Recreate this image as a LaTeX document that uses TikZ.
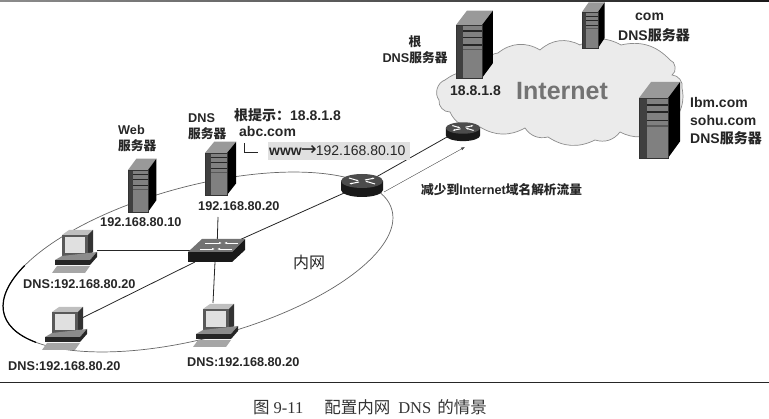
\documentclass[tikz,border=0pt]{standalone}
\usepackage{fontspec}
\setmainfont{Liberation Sans}
\newfontfamily\cjk{Noto Sans CJK SC}
\newfontfamily\capserif{Liberation Serif}
\newfontfamily\arrowfont{DejaVu Sans}
\usetikzlibrary{arrows.meta,calc,positioning}

\tikzset{
	lbl/.style={font=\bfseries\fontsize{12.7}{16}\selectfont, inner sep=0pt, text=black!85, align=left},
	biglbl/.style={lbl, font=\bfseries\fontsize{14}{18}\selectfont},
	lnk/.style={line width=.8pt, black!85},
	bump/.style={bend left=#1},
	serverbox/.pic={
		\fill[black!40] (0,0) -- (.42,-.27) -- (1.42,-.27) -- (1,0) -- cycle;
		\fill[black] (1,0) -- (1.42,-.27) -- (1.42,.72) -- (1,1) -- cycle;
		\fill[black!50] (0,0) rectangle (1,1);
		\fill[black!75] (0,0) rectangle (.27,1);
		\fill[black!85] (.27,.1) rectangle (1,.13);
		\fill[black!85] (.27,.22) rectangle (1,.25);
		\fill[black!85] (.27,.36) rectangle (1,.39);
		\fill[black!65] (.27,.45) rectangle (1,.48);
		\draw[black!80, line width=.5pt] (0,0) rectangle (1,1);
	},
	pcbox/.pic={
		\fill[black!25] (10,5) -- (17,0) -- (41,0) -- (36,5) -- cycle;
		\fill[black!80] (36,5) -- (41,0) -- (41,22) -- (36,27) -- cycle;
		\fill[black!65] (10,5) rectangle (36,27);
		\fill[black!12] (13,7) rectangle (33,23);
		\fill[black!45] (3,30) -- (10,26) -- (45,22) -- (38,30) -- cycle;
		\fill[black!85] (3,30) rectangle (38,35);
		\fill[black!85] (38,35) -- (45,27) -- (45,22) -- (38,30) -- cycle;
		\fill[black!35] (0,43) -- (5,36) -- (38,36) -- (33,43) -- cycle;
	},
	routerbox/.pic={
		\fill[black!90] (-21,0) -- (-21,9) arc[start angle=180, end angle=360, x radius=21, y radius=-7] -- (21,0) -- cycle;
		\fill[black!70] (0,0) ellipse[x radius=21, y radius=7];
		\draw[white, line width=1pt, -{Latex[length=2.5pt]}] (-13,-3) -- (-3,0);
		\draw[white, line width=1pt, -{Latex[length=2.5pt]}] (13,3) -- (3,0);
		\draw[white, line width=1pt, -{Latex[length=2.5pt]}] (-3,1) -- (-13,3);
		\draw[white, line width=1pt, -{Latex[length=2.5pt]}] (3,-1) -- (13,-3);
	}
}

\begin{document}
\begin{tikzpicture}[x=1pt, y=-1pt]
	\useasboundingbox (0,0) rectangle (769,419);

	\coordinate (cen) at (198,262);
	\coordinate (sw) at (217,250);
	\coordinate (swL) at (195,262);
	\coordinate (swB) at (215,262);
	\coordinate (r1) at (362,185);
	\coordinate (r2) at (463,128);
	\coordinate (pc1) at (97,250);
	\coordinate (pc2) at (82,318);
	\coordinate (pc3) at (213,303);
	\coordinate (dnsB) at (218,217);
	\coordinate (flowS) at (384,192);
	\coordinate (flowE) at (465,147);
	\coordinate (brT) at (244,143);
	\coordinate (brE) at (258,152);

	% rules
	\shade[left color=black!45, right color=black!90] (0,0) rectangle (769,1.5);
	\draw[black!85, line width=.8pt] (0,382) coordinate (ruleL) -- (769,382) coordinate (ruleR);

	% cloud
	\draw[black!45, fill=black!8, line width=.7pt] (439,100) to[bump=55] (445,80) to[bump=30] (483,75)
		to[bump=50] (498,53) to[bump=35] (540,50) to[bump=35] (580,45) to[bump=30] (621,45)
		to[bump=30] (670,60) to[bump=70] (672,75) to[bump=50] (682,88) to[bump=40] (660,130)
		to[bump=30] (620,132) to[bump=35] (595,140) to[bump=30] (548,137) to[bump=35] (525,128)
		to[bump=30] (480,127) to[bump=40] (450,112) to[bump=50] cycle;

	% lan ring
	\draw[black!60, line width=.7pt, rotate around={15:(cen)}] (cen) ellipse[x radius=200.8, y radius=76];
	\draw[black, line width=1.2pt, rotate around={15:(cen)}] ($(cen)+(213:200.8 and 76)$) arc[start angle=213, end angle=152, x radius=200.8, y radius=76];

	% links
	\draw[lnk] (sw) -- (r1);
	\draw[lnk] (r1) -- (r2);
	\draw[lnk] (sw) -- (pc1);
	\draw[lnk] (swL) -- (pc2);
	\draw[lnk] (swB) -- (pc3);
	\draw[lnk] (sw) -- (dnsB);
	\draw[black!70, line width=.4pt, -{Latex[length=4pt,width=3pt]}] (flowS) -- (flowE);
	\draw[black!85, line width=.8pt] (brT) |- (brE);

	% servers
	\pic[xscale=20, yscale=42] at (128,170) {serverbox};
	\pic[xscale=22, yscale=42] at (205,153) {serverbox};
	\pic[xscale=26, yscale=53] at (456,25) {serverbox};
	\pic[xscale=16, yscale=36] at (582,12) {serverbox};
	\pic[xscale=29, yscale=60] at (639,98) {serverbox};

	% switch
	\fill[black!90] (188,252) rectangle (232,262) -- (245,250) -- (245,239) -- (232,252) -- cycle;
	\fill[black!55] (188,252) -- (202,239) -- (245,239) -- (232,252) -- cycle;
	\draw[white, line width=.9pt, -{Latex[length=3pt]}] (205,243) -- (222,243);
	\draw[white, line width=.9pt, -{Latex[length=3pt]}] (238,243) -- (224,243);
	\draw[white, line width=.9pt, -{Latex[length=3pt]}] (200,249) -- (215,249);
	\draw[white, line width=.9pt, -{Latex[length=3pt]}] (232,249) -- (217,249);

	% routers
	\pic at (r1) [yshift=4pt] {routerbox};
	\pic[scale=.82] at (r2) {routerbox};

	% pcs
	\pic at (52,230) {pcbox};
	\pic at (42,307) {pcbox};
	\pic at (193,304) {pcbox};

	% labels
	\fill[black!12] (268,142) rectangle (410,160);
	\node[lbl, anchor=west] (webL) at (118,139) {Web\\{\cjk 服务器}};
	\node[lbl, anchor=west] (dnsL) at (188,127) {DNS\\{\cjk 服务器}};
	\node[biglbl, anchor=west] (hintL) at (234,115) {{\cjk 根提示：}18.8.1.8};
	\node[biglbl, anchor=west] (abcL) at (239,131) {abc.com};
	\node[lbl, anchor=west, font=\fontsize{14}{16}\selectfont] (wwwL) at (269,151) {\textbf{www}\hspace{-1pt}{\arrowfont\fontsize{19}{16}\selectfont →}\hspace{-1pt}192.168.80.10};
	\node[lbl, anchor=west] (ipWeb) at (100,222) {192.168.80.10};
	\node[lbl, anchor=west] (ipDns) at (198,206) {192.168.80.20};
	\node[lbl, anchor=west] (pcL1) at (23,284) {DNS:192.168.80.20};
	\node[lbl, anchor=west] (pcL2) at (8,366) {DNS:192.168.80.20};
	\node[lbl, anchor=west] (pcL3) at (187,362) {DNS:192.168.80.20};
	\node[lbl, anchor=west, font=\fontsize{16}{18}\selectfont] (lanL) at (293,262) {{\cjk 内网}};
	\node[lbl, anchor=west] (flowL) at (421,190) {{\cjk 减少到}Internet{\cjk 域名解析流量}};
	\node[lbl, align=center] (rootL) at (415,50) {{\cjk 根}\\DNS{\cjk 服务器}};
	\node[biglbl, anchor=west] (rootIp) at (450,91) {18.8.1.8};
	\node[lbl, anchor=west, font=\bfseries\fontsize{25}{27}\selectfont, text=black!55] (netL) at (516,91) {Internet};
	\node[biglbl, anchor=west] (comL) at (635,17) {com};
	\node[biglbl, anchor=west] (comDns) at (618,35) {DNS{\cjk 服务器}};
	\node[biglbl, anchor=west] (ibmL) at (690,121) {Ibm.com\\sohu.com\\DNS{\cjk 服务器}};
	\node[inner sep=0pt, anchor=west, text=black!80, font=\fontsize{16.5}{18}\selectfont] (capL) at (253,407) {{\cjk 图}\hspace{4pt}{\capserif 9-11}\hspace{21pt}{\cjk 配置内网}\hspace{8pt}{\capserif DNS}\hspace{6pt}{\cjk 的情景}};
\end{tikzpicture}
\end{document}
